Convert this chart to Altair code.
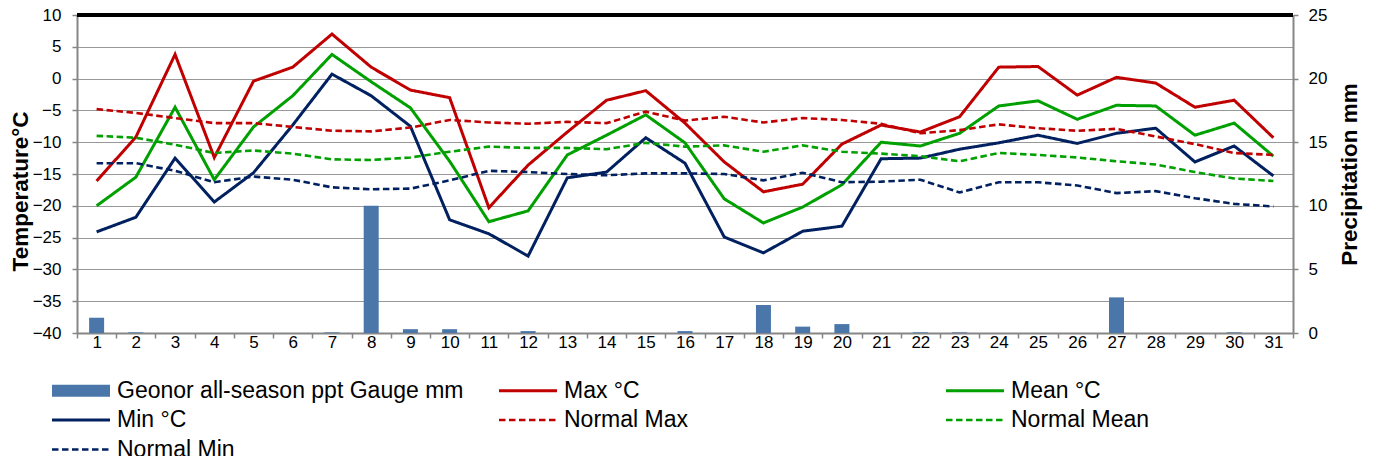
import altair as alt
import pandas as pd

days = list(range(1, 32))
precip = [1.2, 0.05, 0, 0, 0, 0, 0.05, 10.0, 0.3, 0.3, 0, 0.15, 0, 0, 0, 0.15, 0, 2.2, 0.5, 0.7,
          0, 0.05, 0.05, 0, 0, 0, 2.8, 0, 0, 0.05, 0]
max_c = [-16.1, -9.2, 3.8, -12.4, -0.4, 1.8, 7.0, 1.8, -1.8, -3.0, -20.3, -13.6, -8.4, -3.4, -1.9, -7.0,
         -13.1, -17.8, -16.6, -10.3, -7.3, -8.4, -6.0, 1.8, 1.9, -2.6, 0.2, -0.7, -4.5, -3.4, -9.3]
mean_c = [-20.0, -15.5, -4.5, -15.9, -7.6, -2.7, 3.8, -0.5, -4.6, -13.0, -22.5, -20.8, -12.0, -8.9, -5.7,
          -10.1, -18.9, -22.7, -20.2, -16.7, -10.0, -10.6, -8.6, -4.3, -3.5, -6.4, -4.2, -4.3, -8.9, -7.0, -12.2]
min_c = [-24.1, -21.8, -12.5, -19.4, -14.8, -7.3, 0.7, -2.7, -7.5, -22.2, -24.4, -27.9, -15.6, -14.7, -9.3,
         -13.3, -24.9, -27.4, -24.0, -23.2, -12.6, -12.5, -11.1, -10.1, -8.9, -10.2, -8.6, -7.8, -13.1, -10.6, -15.3]
norm_max = [-4.8, -5.4, -6.2, -7.0, -7.0, -7.6, -8.2, -8.3, -7.7, -6.5, -6.9, -7.1, -6.8, -7.0, -5.2, -6.6,
            -6.0, -6.9, -6.2, -6.5, -7.1, -8.6, -8.1, -7.2, -7.8, -8.2, -7.9, -9.1, -10.3, -11.7, -12.0]
norm_mean = [-9.0, -9.3, -10.4, -11.7, -11.3, -11.8, -12.7, -12.8, -12.4, -11.5, -10.7, -10.9, -10.9, -11.1,
             -10.1, -10.7, -10.5, -11.5, -10.5, -11.5, -11.8, -12.2, -13.0, -11.7, -12.0, -12.4, -13.0, -13.5,
             -14.7, -15.7, -16.1]
norm_min = [-13.3, -13.3, -14.5, -16.3, -15.4, -15.9, -17.1, -17.4, -17.3, -16.0, -14.5, -14.7, -15.0, -15.2,
            -14.9, -14.9, -15.0, -16.0, -14.8, -16.3, -16.2, -15.9, -17.9, -16.3, -16.3, -16.8, -18.0, -17.7,
            -18.8, -19.7, -20.1]

BAR = "Geonor all-season ppt Gauge mm"
BAR_COLOR = "#4A76AA"
series_names = [BAR, "Max °C", "Mean °C", "Min °C", "Normal Max", "Normal Mean", "Normal Min"]
series_colors = [BAR_COLOR, "#C00000", "#00A000", "#002060", "#C00000", "#00A000", "#002060"]
series_dash = [[1, 0], [1, 0], [1, 0], [1, 0], [6.5, 3.5], [6.5, 3.5], [6.5, 3.5]]
series_width = [12, 3, 3, 3, 2.6, 2.6, 2.6]
line_names = series_names[1:]
line_values = [max_c, mean_c, min_c, norm_max, norm_mean, norm_min]
# entry sequence that the 3-column legend grid lays out row by row as series_names
legend_values = [series_names[i] for i in (0, 3, 5, 1, 4, 6, 2)]

bar_df = pd.DataFrame({"day": days, "value": precip})
line_df = pd.concat(
    [pd.DataFrame({"day": days, "value": v, "series": n}) for n, v in zip(line_names, line_values)],
    ignore_index=True,
)

FONT = "Liberation Sans"

legend = alt.Legend(
    title=None,
    orient="none",
    legendX=-31,
    legendY=364,
    values=legend_values,
    columns=3,
    gridAlign="all",
    columnPadding=29,
    rowPadding=5.5,
    clipHeight=23,
    symbolSize=3364,
    symbolType="stroke",
    symbolOpacity=1,
    labelFontSize=23,
    labelFont=FONT,
    labelColor="black",
    labelOffset=1,
    labelLimit=0,
    padding=0,
)

x_axis = alt.Axis(
    title=None,
    labelAngle=0,
    labelFontSize=17,
    labelFont=FONT,
    labelColor="black",
    labelPadding=-4,
    tickBand="extent",
    tickSize=5,
    tickColor="#868686",
    tickWidth=1.5,
    domainColor="#868686",
    domainWidth=2,
    grid=False,
)
x_scale = alt.Scale(type="band", paddingInner=0, paddingOuter=0)

bars = alt.Chart(bar_df).mark_bar(size=15, color=BAR_COLOR).encode(
    x=alt.X("day:O", scale=x_scale, axis=x_axis),
    y=alt.Y(
        "value:Q",
        scale=alt.Scale(domain=[0, 25], nice=False),
        axis=alt.Axis(
            orient="right",
            title="Precipitation mm",
            values=[0, 5, 10, 15, 20, 25],
            grid=False,
            labelFontSize=17,
            labelFont=FONT,
            labelColor="black",
            labelPadding=10,
            tickSize=5,
            tickColor="#868686",
            tickWidth=1.5,
            domainColor="#868686",
            domainWidth=2,
            titleFontSize=22.5,
            titleFont=FONT,
            titleFontWeight="bold",
            titleColor="black",
            titleAngle=270,
            titleBaseline="top",
            titlePadding=12,
        ),
    ),
)

lines = alt.Chart(line_df).mark_line().encode(
    x=alt.X("day:O", scale=x_scale, axis=x_axis, bandPosition=0.5),
    y=alt.Y(
        "value:Q",
        scale=alt.Scale(domain=[-40, 10], nice=False),
        axis=alt.Axis(
            title="Temperature°C",
            values=list(range(-40, 11, 5)),
            grid=True,
            gridDash=[1, 1],
            gridColor="#303030",
            gridWidth=1,
            labelFontSize=17,
            labelFont=FONT,
            labelColor="black",
            labelPadding=11,
            tickSize=5,
            tickColor="#868686",
            tickWidth=1.5,
            domainColor="#868686",
            domainWidth=2,
            titleFontSize=22.5,
            titleFont=FONT,
            titleFontWeight="bold",
            titleColor="black",
            titlePadding=0,
            titleY=176,
        ),
    ),
    color=alt.Color(
        "series:N",
        scale=alt.Scale(domain=series_names, range=series_colors),
        legend=legend,
    ),
    strokeDash=alt.StrokeDash(
        "series:N",
        scale=alt.Scale(type="ordinal", domain=series_names, range=series_dash),
        legend=legend,
    ),
    strokeWidth=alt.StrokeWidth(
        "series:N",
        scale=alt.Scale(type="ordinal", domain=series_names, range=series_width),
        legend=legend,
    ),
)

top_rule = alt.Chart(bar_df).mark_rule(color="black", strokeWidth=2.5).encode(
    x=alt.value(0), x2=alt.value(1216), y=alt.value(0)
)

chart = (
    alt.layer(bars, lines, top_rule)
    .resolve_scale(y="independent")
    .properties(
        width=1216,
        height=318,
        autosize=alt.AutoSizeParams(type="none"),
        padding={"left": 69, "top": 7, "right": 75, "bottom": 123},
    )
    .configure_view(strokeWidth=0)
    .configure(font=FONT)
)

chart.save("out.html", embed_options={"renderer": "svg", "actions": False})
